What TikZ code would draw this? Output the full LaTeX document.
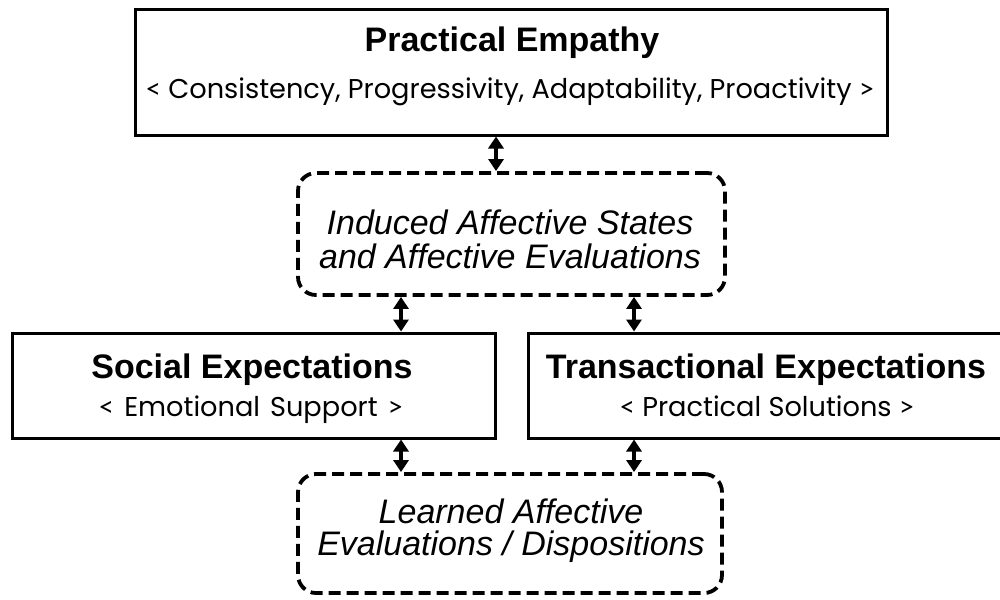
\documentclass[tikz,border=0pt]{standalone}
\usepackage{fontspec}
\setmainfont{Liberation Sans}
\newfontfamily\subfont{Poppins}
\newfontfamily\latofont{Lato}
\newcommand\lsign{{\latofont<}}
\newcommand\gsign{{\latofont>}}
\usetikzlibrary{arrows.meta}
\tikzset{
  sbox/.style={draw, line width=3pt, inner sep=0pt},
  dbox/.style={draw, line width=3.8pt, dash pattern=on 12pt off 6pt, rounded corners=18pt, inner sep=0pt},
  dbl/.style={{Triangle[width=15pt,length=12pt]}-{Triangle[width=15pt,length=12pt]}, line width=3.5pt},
  ttl/.style={anchor=base, inner sep=0pt, font=\bfseries\fontsize{34}{36}\selectfont},
  sub/.style={anchor=base, inner sep=0pt, font=\subfont\fontsize{27.2}{29}\selectfont},
  itl/.style={anchor=base, inner sep=0pt, font=\itshape\fontsize{34}{36}\selectfont}
}
\begin{document}
\begin{tikzpicture}[x=1pt,y=-1pt]
\useasboundingbox (0,0) rectangle (1000,599);
\clip (0,0) rectangle (1000,599);
% boxes
\node[sbox, minimum width=752pt, minimum height=125pt] (top) at (511,72.5) {};
\node[dbox, minimum width=427pt, minimum height=122pt] (d1) at (511.5,234) {};
\node[sbox, minimum width=483pt, minimum height=105pt] (social) at (253.5,385.5) {};
\node[sbox, minimum width=476pt, minimum height=105pt] (trans) at (766,385.5) {};
\node[dbox, minimum width=424pt, minimum height=119pt] (d2) at (510,533.5) {};
% texts
\node[ttl] (toptitle) at (512,52) {Practical Empathy};
\node[sub] (topsub) at (510,99) {\lsign{} Consistency, Progressivity, Adaptability, Proactivity \gsign};
\node[itl] (d1a) at (510,234) {Induced Affective States};
\node[itl] (d1b) at (510,268) {and Affective Evaluations};
\node[ttl] (soctitle) at (252,378) {Social Expectations};
\node[sub] (socsub) at (251,416) {\lsign\hspace{10pt}Emotional\hspace{10pt}Support\hspace{10pt}\gsign};
\node[ttl] (trtitle) at (766,378) {Transactional Expectations};
\node[sub] (trsub) at (767,416) {\lsign{} Practical Solutions \gsign};
\node[itl] (d2a) at (511,523) {Learned Affective};
\node[itl] (d2b) at (511,555) {Evaluations / Dispositions};
% arrow columns
\coordinate (c0) at (496,0);
\coordinate (c1) at (401,0);
\coordinate (c2) at (634,0);
\draw[dbl] (top.south -| c0) -- (d1.north -| c0);
\draw[dbl] (d1.south -| c1) -- (social.north -| c1);
\draw[dbl] (d1.south -| c2) -- (trans.north -| c2);
\draw[dbl] (social.south -| c1) -- (d2.north -| c1);
\draw[dbl] (trans.south -| c2) -- (d2.north -| c2);
\end{tikzpicture}
\end{document}
